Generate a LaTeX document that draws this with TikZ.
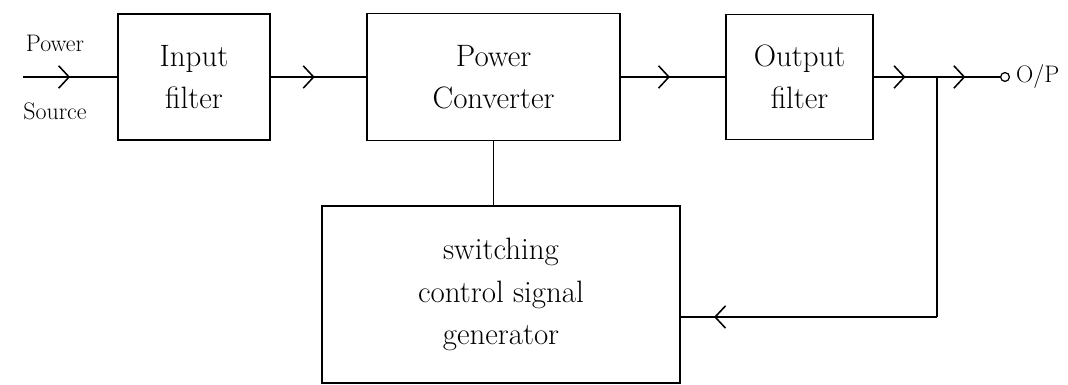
\documentclass[tikz,border=0pt]{standalone}
\usepackage{tikz}
\usetikzlibrary{arrows.meta,positioning,decorations.markings}

\begin{document}
\begin{tikzpicture}[
  line width=1.1pt,
  blk/.style={draw,align=center,inner sep=4pt,font=\fontsize{22}{30}\selectfont},
  side/.style={font=\fontsize{17}{20}\selectfont,inner sep=1pt},
  term/.style={circle,draw,fill=white,minimum size=2.2mm,inner sep=0pt,line width=0.9pt},
  midarrow/.style={postaction={decorate},decoration={markings,
    mark=at position #1 with {\arrow{Straight Barb[length=2.6mm,width=5.6mm,line width=1.1pt]}}}},
]
\useasboundingbox (0,0) rectangle (26.7,9.625);

% --- forward path ---
\node[blk,minimum width=3.8cm, minimum height=3.15cm] (inf)  at (4.85,7.7)  {Input\\filter};
\node[blk,minimum width=6.33cm,minimum height=3.18cm] (conv) at (12.34,7.7) {Power\\Converter};
\node[blk,minimum width=3.68cm,minimum height=3.13cm] (outf) at (19.99,7.7) {Output\\filter};
\node[blk,minimum width=8.95cm,minimum height=4.43cm] (sw)   at (12.525,2.26) {switching\\control signal\\generator};

\coordinate (src) at (0.575,7.7);
\coordinate (jn)  at (23.425,7.7);
\coordinate (fbc) at (23.425,1.7);
\node[term] (out) at (25.125,7.7) {};
\node[font=\fontsize{17}{20}\selectfont,inner sep=1pt,right=1mm of out] (op) {O/P};

\node[side] (pw) at (1.375,8.55) {Power};
\node[side] (so) at (1.375,6.85) {Source};

\draw[midarrow=0.5]  (src)  -- (inf.west);
\draw[midarrow=0.46] (inf.east) -- (conv.west);
\draw[midarrow=0.47] (conv.east) -- (outf.west);
\draw[midarrow=0.5]  (outf.east) -- (jn);
\draw[midarrow=0.45] (jn) -- (out.west);

% --- control and feedback ---
\draw (conv.south) -- (conv.south |- sw.north);
\draw (jn) -- (fbc);
\draw[midarrow=0.87] (fbc) -- (sw.east |- fbc);
\end{tikzpicture}
\end{document}
